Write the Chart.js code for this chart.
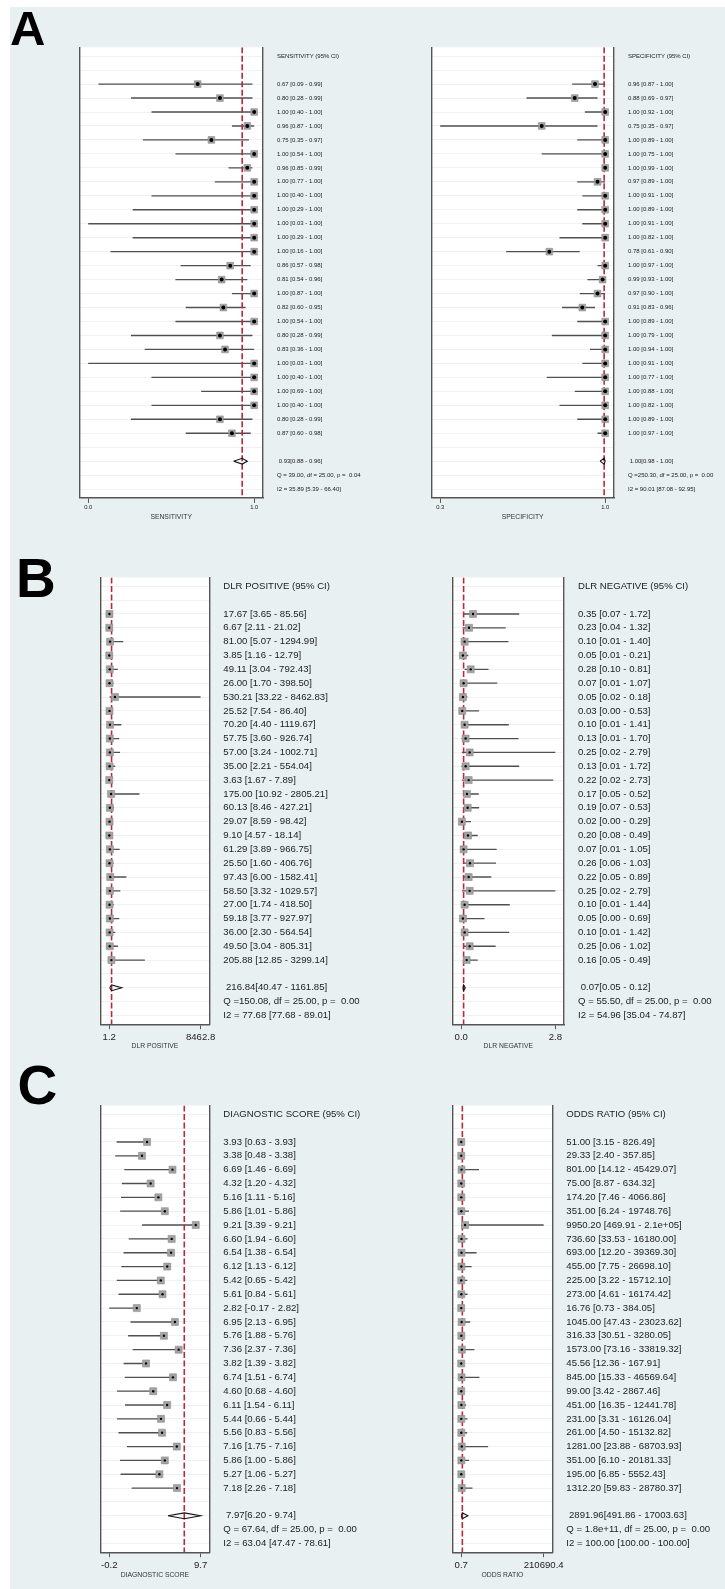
<!DOCTYPE html>
<html>
<head>
<meta charset="utf-8">
<script src="https://cdn.jsdelivr.net/npm/chart.js@4.4.1/dist/chart.umd.min.js"></script>
<style>
html, body { margin: 0; padding: 0; background: #fff; }
body { width: 725px; height: 1589px; position: relative; overflow: hidden; font-family: "Liberation Sans", Arial, sans-serif; }
#bg { position: absolute; left: 10px; top: 7px; right: 0; bottom: 0; background: #e9f0f1; }
.letter { position: absolute; font-weight: bold; line-height: 1; color: #000; }
canvas { position: absolute; }
</style>
</head>
<body>
<div id="bg"></div>
<div class="letter" style="left:10px;top:3.6px;font-size:49px">A</div>
<div class="letter" style="left:16px;top:550.8px;font-size:55px">B</div>
<div class="letter" style="left:17.5px;top:1057.8px;font-size:55px">C</div>
<canvas id="sens"></canvas>
<canvas id="spec"></canvas>
<canvas id="dlrp"></canvas>
<canvas id="dlrn"></canvas>
<canvas id="dscore"></canvas>
<canvas id="odds"></canvas>
<script>
// --- data ---
const sensEst  = [0.67,0.80,1.00,0.96,0.75,1.00,0.96,1.00,1.00,1.00,1.00,1.00,1.00,0.86,0.81,1.00,0.82,1.00,0.80,0.83,1.00,1.00,1.00,1.00,0.80,0.87];
const sensLow  = [0.09,0.28,0.40,0.87,0.35,0.54,0.85,0.77,0.40,0.29,0.03,0.29,0.16,0.57,0.54,0.87,0.60,0.54,0.28,0.36,0.03,0.40,0.69,0.40,0.28,0.60];
const sensHigh = [0.99,0.99,1.00,1.00,0.97,1.00,0.99,1.00,1.00,1.00,1.00,1.00,1.00,0.98,0.96,1.00,0.95,1.00,0.99,1.00,1.00,1.00,1.00,1.00,0.99,0.98];
const sensPooled = [0.93, 0.88, 0.96];
const sensStats = ["Q = 39.00, df = 25.00, p =  0.04", "I2 = 35.89 [5.39 - 66.40]"];

const specEst  = [0.96,0.88,1.00,0.75,1.00,1.00,1.00,0.97,1.00,1.00,1.00,1.00,0.78,1.00,0.99,0.97,0.91,1.00,1.00,1.00,1.00,1.00,1.00,1.00,1.00,1.00];
const specLow  = [0.87,0.69,0.92,0.35,0.89,0.75,0.99,0.89,0.91,0.89,0.91,0.82,0.61,0.97,0.93,0.90,0.83,0.89,0.79,0.94,0.91,0.77,0.88,0.82,0.89,0.97];
const specHigh = [1.00,0.97,1.00,0.97,1.00,1.00,1.00,1.00,1.00,1.00,1.00,1.00,0.90,1.00,1.00,1.00,0.96,1.00,1.00,1.00,1.00,1.00,1.00,1.00,1.00,1.00];
const specPooled = [0.996, 0.98, 1.00];
const specStats = ["Q =250.30, df = 25.00, p =  0.00", "I2 = 90.01 [87.08 - 92.95]"];

const dlrpEst  = [17.67,6.67,81.00,3.85,49.11,26.00,530.21,25.52,70.20,57.75,57.00,35.00,3.63,175.00,60.13,29.07,9.10,61.29,25.50,97.43,58.50,27.00,59.18,36.00,49.50,205.88];
const dlrpLow  = [3.65,2.11,5.07,1.16,3.04,1.70,33.22,7.54,4.40,3.60,3.24,2.21,1.67,10.92,8.46,8.59,4.57,3.89,1.60,6.00,3.32,1.74,3.77,2.30,3.04,12.85];
const dlrpHigh = [85.56,21.02,1294.99,12.79,792.43,398.50,8462.83,86.40,1119.67,926.74,1002.71,554.04,7.89,2805.21,427.21,98.42,18.14,966.75,406.76,1582.41,1029.57,418.50,927.97,564.54,805.31,3299.14];
const dlrpPooled = [216.84, 40.47, 1161.85];
const dlrpStats = ["Q =150.08, df = 25.00, p =  0.00", "I2 = 77.68 [77.68 - 89.01]"];

const dlrnEst  = [0.35,0.23,0.10,0.05,0.28,0.07,0.05,0.03,0.10,0.13,0.25,0.13,0.22,0.17,0.19,0.02,0.20,0.07,0.26,0.22,0.25,0.10,0.05,0.10,0.25,0.16];
const dlrnLow  = [0.07,0.04,0.01,0.01,0.10,0.01,0.02,0.00,0.01,0.01,0.02,0.01,0.02,0.05,0.07,0.00,0.08,0.01,0.06,0.05,0.02,0.01,0.00,0.01,0.06,0.05];
const dlrnHigh = [1.72,1.32,1.40,0.21,0.81,1.07,0.18,0.53,1.41,1.70,2.79,1.72,2.73,0.52,0.53,0.29,0.49,1.05,1.03,0.89,2.79,1.44,0.69,1.42,1.02,0.49];
const dlrnPooled = [0.07, 0.05, 0.12];
const dlrnStats = ["Q = 55.50, df = 25.00, p =  0.00", "I2 = 54.96 [35.04 - 74.87]"];

const dsEst  = [3.93,3.38,6.69,4.32,5.16,5.86,9.21,6.60,6.54,6.12,5.42,5.61,2.82,6.95,5.76,7.36,3.82,6.74,4.60,6.11,5.44,5.56,7.16,5.86,5.27,7.18];
const dsLow  = [0.63,0.48,1.46,1.20,1.11,1.01,3.39,1.94,1.38,1.13,0.65,0.84,-0.17,2.13,1.88,2.37,1.39,1.51,0.68,1.54,0.66,0.83,1.75,1.00,1.06,2.26];
const dsHigh = [3.93,3.38,6.69,4.32,5.16,5.86,9.21,6.60,6.54,6.12,5.42,5.61,2.82,6.95,5.76,7.36,3.82,6.74,4.60,6.11,5.44,5.56,7.16,5.86,5.27,7.18];
const dsPooled = [7.97, 6.20, 9.74];
const dsStats = ["Q = 67.64, df = 25.00, p =  0.00", "I2 = 63.04 [47.47 - 78.61]"];

const orEst  = [51.00,29.33,801.00,75.00,174.20,351.00,9950.20,736.60,693.00,455.00,225.00,273.00,16.76,1045.00,316.33,1573.00,45.56,845.00,99.00,451.00,231.00,261.00,1281.00,351.00,195.00,1312.20];
const orLow  = [3.15,2.40,14.12,8.87,7.46,6.24,469.91,33.53,12.20,7.75,3.22,4.61,0.73,47.43,30.51,73.16,12.36,15.33,3.42,16.35,3.31,4.50,23.88,6.10,6.85,59.83];
const orHigh = [826.49,357.85,45429.07,634.32,4066.86,19748.76,210690.4,16180.00,39369.30,26698.10,15712.10,16174.42,384.05,23023.62,3280.05,33819.32,167.91,46569.64,2867.46,12441.78,16126.04,15132.82,68703.93,20181.33,5552.43,28780.37];
const orPooled = [2891.96, 491.86, 17003.63];
const orStats = ["Q = 1.8e+11, df = 25.00, p =  0.00", "I2 = 100.00 [100.00 - 100.00]"];

const FONT = "'Liberation Sans', Arial, sans-serif";
const Y_MIN = -0.63, Y_MAX = 31.63;

function fmt(v) {
  if (Math.abs(v) >= 1e5) {
    const [m, e] = v.toExponential(1).split('e');
    return m + 'e' + e[0] + e.slice(1).padStart(2, '0');
  }
  return v.toFixed(2);
}

const whiteArea = {
  id: 'whiteArea',
  beforeDraw(chart) {
    const a = chart.chartArea, ctx = chart.ctx;
    ctx.save();
    ctx.fillStyle = '#fff';
    ctx.fillRect(a.left, a.top, a.right - a.left, a.bottom - a.top);
    ctx.restore();
  }
};

function forest(id, g, est, low, high, pooled, stats, header, title) {
  const cv = document.getElementById(id);
  const left = g.L - 2, top = g.T - 1;
  const frameW = g.R - g.L, frameH = g.B - g.T;
  const yw = g.cr - left - 2 - frameW;
  cv.width = Math.round(g.cr - left);
  cv.height = Math.round(1 + frameH + g.xh);
  cv.style.left = left + 'px';
  cv.style.top = top + 'px';

  const n = est.length;
  const labels = [header, ''];
  for (let i = 0; i < n; i++) labels.push(fmt(est[i]) + ' [' + fmt(low[i]) + ' - ' + fmt(high[i]) + ']');
  labels.push('', ' ' + fmt(pooled[0]) + '[' + fmt(pooled[1]) + ' - ' + fmt(pooled[2]) + ']', stats[0], stats[1]);
  const sumRow = n + 3;

  const lo = Math.min(...low, pooled[1]), hi = Math.max(...high, pooled[2]);
  const pad = (hi - lo) * 9 / (frameW - 18);

  const ci = [];
  for (let i = 0; i < n; i++) {
    ci.push({x: low[i], y: i + 2}, {x: high[i], y: i + 2}, {x: NaN, y: NaN});
  }
  const boxes = est.map((v, i) => ({x: v, y: i + 2}));
  const dh = 0.21;
  const diamond = [
    {x: pooled[1], y: sumRow}, {x: pooled[0], y: sumRow - dh},
    {x: pooled[2], y: sumRow}, {x: pooled[0], y: sumRow + dh}, {x: pooled[1], y: sumRow}
  ];
  const ref = [{x: pooled[0], y: Y_MIN}, {x: pooled[0], y: Y_MAX}];

  new Chart(cv, {
    type: 'scatter',
    data: {
      datasets: [
        {data: boxes, order: 1, pointStyle: 'circle', pointRadius: g.dot, backgroundColor: '#000', borderWidth: 0},
        {data: diamond, order: 2, showLine: true, pointRadius: 0, borderColor: '#111', borderWidth: 1.1, tension: 0},
        {data: boxes, order: 3, pointStyle: 'rect', pointRadius: g.box / Math.SQRT2, backgroundColor: '#a3a3a3', borderColor: '#8c8c8c', borderWidth: 0.6},
        {data: ref, order: 4, showLine: true, pointRadius: 0, borderColor: '#b9283c', borderWidth: 1.6, borderDash: [6, 2.5]},
        {data: ci, order: 5, showLine: true, pointRadius: 0, borderColor: '#505050', borderWidth: 1.35, spanGaps: false}
      ]
    },
    options: {
      responsive: false,
      animation: false,
      devicePixelRatio: 1,
      layout: {padding: {left: 2, top: 1, right: 0, bottom: 0}},
      plugins: {legend: {display: false}, tooltip: {enabled: false}},
      scales: {
        x: {
          type: 'linear', position: 'bottom', bounds: 'data',
          min: lo - pad, max: hi + pad,
          afterBuildTicks: ax => { ax.ticks = [{value: lo}, {value: hi}]; },
          afterFit: ax => { ax.height = g.xh; ax.paddingLeft = 0; ax.paddingRight = 0; },
          ticks: {autoSkip: false, maxRotation: 0, padding: g.tp, color: '#222',
                  font: {family: FONT, size: g.tf}, callback: v => v.toFixed(1)},
          grid: {drawOnChartArea: false, drawTicks: true, tickLength: 5, color: '#555', lineWidth: 1},
          border: {display: true, color: '#555', width: 1.4},
          title: {display: true, text: title, color: '#333', font: {family: FONT, size: 6.8}, padding: 0}
        },
        y: {
          type: 'linear', position: 'right', reverse: true, bounds: 'data',
          min: Y_MIN, max: Y_MAX,
          afterBuildTicks: ax => { ax.ticks = labels.map((_, i) => ({value: i})); },
          afterFit: ax => { ax.width = yw; ax.paddingTop = 0; ax.paddingBottom = 0; },
          ticks: {autoSkip: false, padding: 14, color: g.lc,
                  font: {family: FONT, size: g.lf}, callback: v => labels[v]},
          grid: {drawTicks: false, color: '#f1f1f1', lineWidth: 1},
          border: {display: true, color: '#555', width: 1.4}
        },
        yL: {
          type: 'linear', position: 'left', reverse: true, bounds: 'data',
          min: Y_MIN, max: Y_MAX,
          afterFit: ax => { ax.width = 0; ax.paddingTop = 0; ax.paddingBottom = 0; },
          ticks: {display: false},
          grid: {display: false},
          border: {display: true, color: '#555', width: 1.4}
        }
      }
    },
    plugins: [whiteArea]
  });
}

const smallA = {lf: 6, lc: '#1a1a1a', tf: 5.8, tp: 1.5, box: 6.7, dot: 2};
forest('sens', Object.assign({L: 76, T: 43, R: 263, B: 498, cr: 362, xh: 23.1}, smallA),
  sensEst, sensLow, sensHigh, sensPooled, sensStats, 'SENSITIVITY (95% CI)', 'SENSITIVITY');
forest('spec', Object.assign({L: 428, T: 43, R: 614, B: 498, cr: 725, xh: 23.1}, smallA),
  specEst, specLow, specHigh, specPooled, specStats, 'SPECIFICITY (95% CI)', 'SPECIFICITY');

const big = {lf: 9.6, lc: '#222', tf: 9.6, tp: 1.9, box: 7, dot: 1.2};
forest('dlrp', Object.assign({L: 96.7, T: 572.7, R: 209.3, B: 1024, cr: 362, xh: 25.8}, big),
  dlrpEst, dlrpLow, dlrpHigh, dlrpPooled, dlrpStats, 'DLR POSITIVE (95% CI)', 'DLR POSITIVE');
forest('dlrn', Object.assign({L: 448.7, T: 572.7, R: 564, B: 1024, cr: 725, xh: 25.8}, big),
  dlrnEst, dlrnLow, dlrnHigh, dlrnPooled, dlrnStats, 'DLR NEGATIVE (95% CI)', 'DLR NEGATIVE');
forest('dscore', Object.assign({L: 96.7, T: 1101, R: 209.3, B: 1552.3, cr: 362, xh: 26.8}, big),
  dsEst, dsLow, dsHigh, dsPooled, dsStats, 'DIAGNOSTIC SCORE (95% CI)', 'DIAGNOSTIC SCORE');
forest('odds', Object.assign({L: 448.7, T: 1101, R: 552.3, B: 1552.3, cr: 725, xh: 26.8}, big),
  orEst, orLow, orHigh, orPooled, orStats, 'ODDS RATIO (95% CI)', 'ODDS RATIO');
</script>
</body>
</html>
